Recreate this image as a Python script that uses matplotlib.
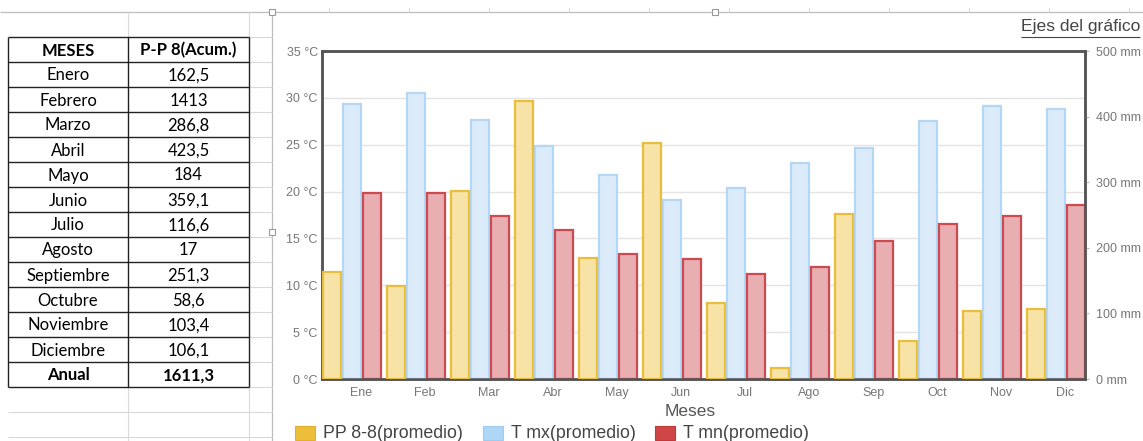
import matplotlib
matplotlib.use("Agg")
import matplotlib.pyplot as plt
from matplotlib.lines import Line2D
from matplotlib.patches import Rectangle
import numpy as np

# ---------------- data ----------------
months = ["Ene", "Feb", "Mar", "Abr", "May", "Jun",
          "Jul", "Ago", "Sep", "Oct", "Nov", "Dic"]
pp_mm = [162.5, 141.3, 286.8, 423.5, 184.0, 359.1,
         116.6, 17.0, 251.3, 58.6, 103.4, 106.1]
tmax_c = [29.3, 30.5, 27.6, 24.9, 21.8, 19.1,
          20.4, 23.0, 24.6, 27.5, 29.1, 28.8]
tmin_c = [19.9, 19.9, 17.4, 15.9, 13.3, 12.8,
          11.2, 12.0, 14.7, 16.5, 17.4, 18.6]

table_header = ["MESES", "P-P 8(Acum.)"]
table_months = ["Enero", "Febrero", "Marzo", "Abril", "Mayo", "Junio", "Julio",
                "Agosto", "Septiembre", "Octubre", "Noviembre", "Diciembre", "Anual"]
table_values = ["162,5", "1413", "286,8", "423,5", "184", "359,1", "116,6",
                "17", "251,3", "58,6", "103,4", "106,1", "1611,3"]

legend_labels = ["PP 8-8(promedio)", "T mx(promedio)", "T mn(promedio)"]
temp_ticks = [0, 5, 10, 15, 20, 25, 30, 35]
mm_ticks = [0, 100, 200, 300, 400, 500]

# ---------------- figure ----------------
W, H = 1143, 441
plt.rcParams["font.family"] = ["Liberation Sans", "DejaVu Sans"]
fig = plt.figure(figsize=(W / 100, H / 100), dpi=100)
fig.patch.set_facecolor("white")


def fx(x):
    return x / W


def fy(y):
    return 1 - y / H


def seg(x0, y0, x1, y1, color, lw, z=1):
    fig.add_artist(Line2D([fx(x0), fx(x1)], [fy(y0), fy(y1)],
                          transform=fig.transFigure, color=color,
                          lw=lw, zorder=z, solid_capstyle="butt"))


# spreadsheet grid around the table
grid_c = "#D9D9D9"
seg(0, 12, W, 12, "#BDBDBD", 0.9)
for cx in range(329, 1140, 80):
    seg(cx, 8, cx, 12, "#D0D0D0", 0.7)
seg(272, 12, 272, H, "#BDBDBD", 0.9)
for gx in (128, 249):
    seg(gx, 12, gx, 37, grid_c, 0.8)
    seg(gx, 387, gx, H, grid_c, 0.8)
for gy in (412, 437):
    seg(8, gy, 272, gy, grid_c, 0.8)
for k in range(15):
    seg(249, 37 + 25 * k, 272, 37 + 25 * k, grid_c, 0.8)

# table borders
for k in range(15):
    seg(8, 37 + 25 * k, 249, 37 + 25 * k, "#222222", 1.0, 3)
for bx in (8, 128, 249):
    seg(bx, 37, bx, 387, "#222222", 1.0, 3)

# table text
tfont = ["Lato", "DejaVu Sans"]
for j, h in enumerate(table_header):
    fig.text(fx(68 if j == 0 else 188.5), fy(50.5), h, ha="center", va="center",
             fontsize=12, fontweight="bold", family=tfont, color="black")
for k, (m, v) in enumerate(zip(table_months, table_values)):
    yc = 75.5 + 25 * k
    bold = "bold" if m == "Anual" else "normal"
    fig.text(fx(68), fy(yc), m, ha="center", va="center", fontsize=12,
             fontweight=bold, family=tfont, color="black")
    fig.text(fx(188.5), fy(yc), v, ha="center", va="center", fontsize=12,
             fontweight=bold, family=tfont, color="black")

# chart selection handles
for hx, hy in ((272, 12), (715, 12), (272, 232)):
    fig.add_artist(Rectangle((fx(hx - 3), fy(hy + 3)), 6 / W, 6 / H,
                             transform=fig.transFigure, facecolor="white",
                             edgecolor="#9A9A9A", lw=0.8, zorder=4))

# ---------------- chart ----------------
ax = fig.add_axes([fx(322), fy(379), (1085 - 322) / W, (379 - 51) / H])
ax2 = ax.twinx()

x = np.arange(len(months))
bw = 0.28
ax2.bar(x + 0.0, pp_mm, width=bw, align="edge",
        facecolor="#F7E3A6", edgecolor="#E9BD3E", lw=1.6, zorder=3)
ax.bar(x + 0.315, tmax_c, width=bw, align="edge",
       facecolor="#DCEBFA", edgecolor="#B3D8F6", lw=1.6, zorder=3)
ax.bar(x + 0.63, tmin_c, width=bw, align="edge",
       facecolor="#E8AEB1", edgecolor="#CC4A50", lw=1.6, zorder=3)

ax.set_xlim(-0.01, 11.91)
ax2.set_xlim(-0.01, 11.91)
ax.set_ylim(0, 35)
ax2.set_ylim(0, 500)

ax.set_yticks(temp_ticks)
ax.set_yticklabels([f"{t} °C" for t in temp_ticks])
ax2.set_yticks(mm_ticks)
ax2.set_yticklabels([f"{t} mm" for t in mm_ticks])
ax.set_xticks(x + 0.6)
ax.set_xticklabels(months)

ax.grid(axis="y", color="#E4E4E4", lw=1.0, zorder=0)
ax.set_axisbelow(True)

ax.tick_params(axis="y", length=0, labelsize=9, labelcolor="#777777", pad=3)
ax.tick_params(axis="x", length=0, labelsize=9, labelcolor="#777777", pad=6)
ax2.tick_params(axis="y", length=3, color="#BBBBBB", width=0.8,
                labelsize=9, labelcolor="#777777", pad=5)

for a in (ax, ax2):
    for s in a.spines.values():
        s.set_color("#555555")
        s.set_linewidth(1.8)
ax.spines["bottom"].set_color("#444444")

fig.text(fx(690), fy(412), "Meses", ha="center", va="center",
         fontsize=12.5, color="#555555")

# legend drawn as swatches and labels along the bottom
leg_fill = ["#EDBE3C", "#AED6F7", "#D04545"]
leg_edge = ["#E2B02C", "#9FCBEF", "#C03A3A"]
leg_x = [295, 483, 655]
for lx, lab, fc, ec in zip(leg_x, legend_labels, leg_fill, leg_edge):
    fig.add_artist(Rectangle((fx(lx), fy(440)), 20 / W, 14 / H,
                             transform=fig.transFigure, facecolor=fc,
                             edgecolor=ec, lw=0.8))
    fig.text(fx(lx + 28), fy(433), lab, ha="left", va="center",
             fontsize=12.8, color="#444444")

# axis-options link at top right
t = fig.text(fx(1021), fy(27), "Ejes del gráfico", ha="left", va="center",
             fontsize=12.6, color="#444444")
fig.canvas.draw()
bb = t.get_window_extent()
seg(bb.x0, 37, bb.x1, 37, "#444444", 0.8)

fig.savefig("out.png", dpi=100, facecolor="white")
